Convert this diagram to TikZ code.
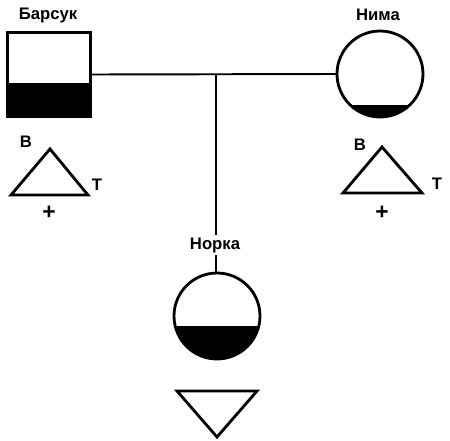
\documentclass[tikz,border=0pt]{standalone}
\usepackage{fontspec}
\setmainfont{Liberation Sans}
\begin{document}
\begin{tikzpicture}[x=0.02cm,y=-0.02cm,
  every node/.style={font=\fontsize{9.5}{11}\selectfont\bfseries},
  person/.style={draw,line width=1.6pt,inner sep=0pt,outer sep=0pt},
  male/.style={person,rectangle,minimum width=1.66cm,minimum height=1.68cm},
  female/.style={person,circle,minimum size=1.72cm},
  shade/.style={path picture={\fill (path picture bounding box.south west) rectangle ([yshift=#1]path picture bounding box.south east);}},
  link/.style={line width=1.1pt},
  tri/.style={line width=1.6pt,line join=miter},
  plus/.style={font=\fontsize{13}{14}\selectfont\bfseries}]
\useasboundingbox (0,0) rectangle (450,440);
% parents
\node[male,shade=0.68cm] (barsuk) at (49,74.5) {};
\node (barsuklbl) at (48,15) {Барсук};
\node[female,shade=0.24cm] (nima) at (380,74) {};
\node (nimalbl) at (378,15) {Нима};
% child
\node[female,shade=0.66cm] (norka) at (217,316) {};
\node[inner sep=1.5pt] (norkalbl) at (215,245) {Норка};
% connectors
\draw[link] (barsuk.east) -- (nima.west);
\coordinate (mate) at (216,75);
\draw[link] (mate) -- (mate |- norkalbl.north);
\draw[link] (mate |- norkalbl.south) -- (mate |- norka.north);
% antigen triangles
\draw[tri] (50,149) -- (88,195) -- (11,195) -- cycle;
\node (bleft) at (26,142) {В};
\node (tleft) at (97,185) {Т};
\node[plus] (pleft) at (49,213) {+};
\draw[tri] (382,147) -- (422,193) -- (343,193) -- cycle;
\node (bright) at (360,145) {В};
\node (tright) at (437,184) {Т};
\node[plus] (pright) at (382,213) {+};
\draw[tri] (177,391) -- (257,391) -- (217,437) -- cycle;
\end{tikzpicture}
\end{document}
